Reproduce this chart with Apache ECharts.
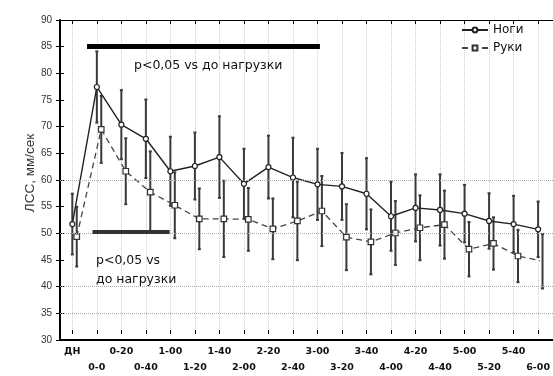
<!DOCTYPE html>
<html><head><meta charset="utf-8">
<script src="https://cdn.jsdelivr.net/npm/echarts@6/dist/echarts.min.js"></script>
<style>html,body{margin:0;padding:0;background:#fff}#c{width:553px;height:376px}</style>
</head><body><div id="c"></div>
<script>
// ---- data ----
const categories = ['ДН','0-0','0-20','0-40','1-00','1-20','1-40','2-00','2-20','2-40','3-00','3-20','3-40','4-00','4-20','4-40','5-00','5-20','5-40','6-00'];
const legsMean = [51.0, 77.2, 70.0, 67.3, 61.1, 62.1, 63.8, 58.7, 61.9, 59.9, 58.6, 58.2, 56.8, 52.5, 54.1, 53.7, 53.0, 51.6, 51.0, 50.0];
const legsErr  = [5.8, 6.8, 6.6, 7.5, 6.6, 6.4, 7.8, 6.7, 6.0, 7.6, 6.8, 6.4, 6.8, 6.6, 6.4, 6.8, 5.5, 5.3, 5.4, 5.3];
const armsMean = [48.6, 69.1, 61.1, 57.1, 54.6, 52.0, 52.0, 51.9, 50.1, 51.6, 53.5, 48.5, 47.6, 49.3, 50.3, 50.9, 46.2, 47.3, 44.9, 43.9];
const armsErr  = [5.7, 6.4, 6.3, 7.8, 6.3, 5.8, 7.3, 6.0, 5.8, 7.5, 6.7, 6.3, 6.2, 6.1, 6.2, 6.5, 5.2, 5.0, 5.0, 5.2];
const yMin = 30, yMax = 90, yStep = 5;
const gridLineValues = [35, 40, 50, 60];
const sigTop = [0.6, 10.1, 85];
const sigBottom = [0.82, 3.97, 49.5];
const armsOffset = 0.18;
const seriesNames = ['Ноги', 'Руки'];
const sigText = 'p<0,05 vs до нагрузки';
const sigText2 = 'p<0,05 vs\nдо нагрузки';

// ---- layout ----
const W = 553;
const GL = 60, GR = 0, GT = 20, GB = 36;
const half = (W - GL - GR) / categories.length / 2;

function errRender(params, api) {
  const x = api.value(0);
  const lo = api.coord([x, api.value(1)]);
  const hi = api.coord([x, api.value(2)]);
  const cw = 1.5;
  const style = { stroke: '#3a3a3a', lineWidth: 2 };
  return { type: 'group', children: [
    { type: 'line', shape: { x1: lo[0], y1: lo[1], x2: hi[0], y2: hi[1] }, style },
    { type: 'line', shape: { x1: lo[0] - cw, y1: lo[1], x2: lo[0] + cw, y2: lo[1] }, style },
    { type: 'line', shape: { x1: hi[0] - cw, y1: hi[1], x2: hi[0] + cw, y2: hi[1] }, style }
  ]};
}

const chart = echarts.init(document.getElementById('c'), null, { renderer: 'canvas' });
chart.setOption({
  animation: false,
  backgroundColor: '#fff',
  grid: [
    { left: GL, right: GR, top: GT, bottom: GB },
    { left: GL + half, right: GR + half, top: GT, bottom: GB }
  ],
  legend: {
    data: seriesNames, orient: 'vertical', left: 456, top: 19,
    itemWidth: 26, itemHeight: 6, itemGap: 6,
    textStyle: { fontFamily: 'DejaVu Sans', fontSize: 12, color: '#111' }
  },
  xAxis: [
    { gridIndex: 0, type: 'value', min: 0, max: 1, position: 'bottom',
      axisLine: { show: true, lineStyle: { color: '#000', width: 2 } },
      axisTick: { show: false }, axisLabel: { show: false }, splitLine: { show: false } },
    { gridIndex: 0, type: 'value', min: 0, max: 1, position: 'top',
      axisLine: { show: true, lineStyle: { color: '#000', width: 1 } },
      axisTick: { show: false }, axisLabel: { show: false }, splitLine: { show: false } },
    { gridIndex: 1, type: 'value', min: 0, max: categories.length - 1, interval: 1, position: 'bottom',
      axisLine: { show: false },
      axisTick: { show: true, inside: true, length: 4, lineStyle: { color: '#000', width: 1 } },
      axisLabel: { margin: 10, lineHeight: 16, fontFamily: 'DejaVu Sans', fontWeight: 'bold', fontSize: 9.5, color: '#111',
        formatter: v => { const i = Math.round(v); return (i % 2 ? '\n' : '') + categories[i]; } },
      splitLine: { show: true, lineStyle: { color: '#ccc', type: 'dotted', width: 1 } } },
    { gridIndex: 1, type: 'value', min: 0, max: categories.length - 1, interval: 1, position: 'top',
      axisLine: { show: false },
      axisTick: { show: true, inside: true, length: 4, lineStyle: { color: '#000', width: 1 } },
      axisLabel: { show: false }, splitLine: { show: false } }
  ],
  yAxis: [
    { gridIndex: 0, type: 'value', min: yMin, max: yMax, interval: yStep, position: 'left',
      axisLine: { show: true, lineStyle: { color: '#000', width: 2 } },
      axisTick: { show: true, inside: true, length: 4, lineStyle: { color: '#000' } },
      axisLabel: { margin: 8, fontFamily: 'Liberation Sans', fontSize: 10, color: '#333' },
      splitLine: { show: false },
      name: 'ЛСС, мм/сек', nameLocation: 'middle', nameGap: 23, nameMoveOverlap: false,
      nameTextStyle: { fontFamily: 'Liberation Sans', fontSize: 13.5, color: '#333', padding: [0, 0, 0, 14] } },
    { gridIndex: 0, type: 'value', min: yMin, max: yMax, interval: yStep, position: 'right',
      axisLine: { show: false },
      axisTick: { show: true, inside: true, length: 4, lineStyle: { color: '#000' } },
      axisLabel: { show: false }, splitLine: { show: false } },
    { gridIndex: 1, type: 'value', min: yMin, max: yMax, show: false }
  ],
  graphic: [
    { type: 'text', left: 134, top: 59, z: 10,
      style: { text: sigText, font: '12.5px "DejaVu Sans"', fill: '#111' } },
    { type: 'text', left: 96, top: 251, z: 10,
      style: { text: sigText2, font: '12.5px "DejaVu Sans"', fill: '#111', lineHeight: 19 } }
  ],
  series: [
    { name: 'grid', type: 'line', xAxisIndex: 0, yAxisIndex: 0, data: [], silent: true, z: 0,
      markLine: { silent: true, symbol: 'none', label: { show: false },
        lineStyle: { type: 'dotted', color: '#aaa', width: 1 },
        data: gridLineValues.map(v => ({ yAxis: v })) } },
    { name: 'errLegs', type: 'custom', xAxisIndex: 2, yAxisIndex: 2, z: 1,
      renderItem: errRender, encode: { x: 0, y: [1, 2] },
      data: legsMean.map((m, i) => [i, m - legsErr[i], m + legsErr[i]]) },
    { name: 'errArms', type: 'custom', xAxisIndex: 2, yAxisIndex: 2, z: 1,
      renderItem: errRender, encode: { x: 0, y: [1, 2] },
      data: armsMean.map((m, i) => [i + armsOffset, m - armsErr[i], m + armsErr[i]]) },
    { name: seriesNames[0], type: 'line', xAxisIndex: 2, yAxisIndex: 2, z: 3,
      symbol: 'circle', symbolSize: 5, showAllSymbol: true,
      itemStyle: { color: '#fff', borderColor: '#222', borderWidth: 1.2 },
      lineStyle: { color: '#222', width: 1.4 },
      data: legsMean.map((m, i) => [i, m]) },
    { name: seriesNames[1], type: 'line', xAxisIndex: 2, yAxisIndex: 2, z: 3,
      symbol: 'rect', symbolSize: 5.5, showAllSymbol: true,
      itemStyle: { color: '#fff', borderColor: '#333', borderWidth: 1.2 },
      lineStyle: { color: '#444', width: 1.3, type: [6, 4] },
      data: armsMean.map((m, i) => [i + armsOffset, m]) },
    { name: 'sig', type: 'line', xAxisIndex: 2, yAxisIndex: 2, data: [], silent: true, z: 4,
      markLine: { silent: true, symbol: 'none', label: { show: false },
        data: [
          [{ coord: [sigTop[0], sigTop[2]], lineStyle: { color: '#000', width: 5, type: 'solid' } },
           { coord: [sigTop[1], sigTop[2]] }],
          [{ coord: [sigBottom[0], sigBottom[2]], lineStyle: { color: '#333', width: 4, type: 'solid' } },
           { coord: [sigBottom[1], sigBottom[2]] }]
        ] } }
  ]
});
</script></body></html>
